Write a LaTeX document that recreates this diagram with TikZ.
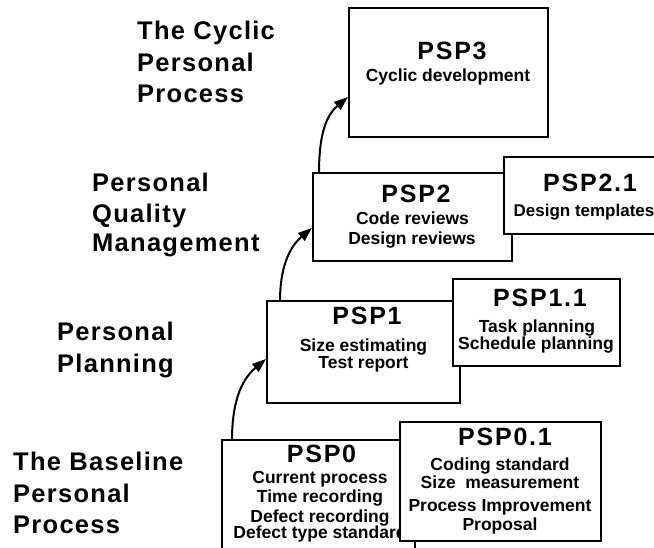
\documentclass[tikz,border=0pt]{standalone}
\usepackage{fontspec}
\setmainfont{Liberation Sans}
\newfontfamily\titlefont{Liberation Sans}[LetterSpace=7]
\newfontfamily\labelfont{Liberation Sans}[LetterSpace=5]
\usetikzlibrary{arrows.meta,calc}
\begin{document}
\begin{tikzpicture}[x=1pt,y=1pt,
  box/.style={draw, line width=2pt, fill=white, inner sep=0pt, outer sep=0pt, rectangle},
  ttl/.style={anchor=base, inner sep=0pt, font=\titlefont\bfseries\fontsize{25}{29}\selectfont},
  txt/.style={anchor=base, inner sep=0pt, font=\bfseries\fontsize{17.5}{20}\selectfont},
  lab/.style={anchor=base west, inner sep=0pt, font=\labelfont\bfseries\fontsize{25.5}{30}\selectfont},
  arr/.style={line width=2pt, -{Triangle[length=14pt,width=10pt]}, out=90, in=220}]
\useasboundingbox (0,0) rectangle (654,548);
\fill[white] (0,0) rectangle (654,548);
\clip (0,0) rectangle (654,548);

% left labels
\node[lab] (c1) at (137,508) {The Cyclic};
\node[lab] (c2) at (137,476) {Personal};
\node[lab] (c3) at (137,445) {Process};
\node[lab] (q1) at (92,356) {Personal};
\node[lab] (q2) at (92,325) {Quality};
\node[lab] (q3) at (92,296) {Management};
\node[lab] (l1) at (57,207) {Personal};
\node[lab] (l2) at (57,175) {Planning};
\node[lab] (b1) at (13,77) {The Baseline};
\node[lab] (b2) at (13,45) {Personal};
\node[lab] (b3) at (13,14) {Process};

% PSP0
\node[box, minimum width=193pt, minimum height=125pt] (p0) at (318.5,45.5) {};
\node[ttl] (p0t) at (321.5,85) {PSP0};
\node[txt] (p0a) at (320,64) {Current process};
\node[txt] (p0b) at (320,45) {Time recording};
\node[txt] (p0c) at (320,25) {Defect recording};
\node[txt] (p0d) at (320,9) {Defect type standard};

% PSP0.1
\node[box, minimum width=201pt, minimum height=119pt] (p01) at (500.5,66.5) {};
\node[ttl] (p01t) at (505,102) {PSP0.1};
\node[txt] (p01a) at (500,77) {Coding standard};
\node[txt] (p01b) at (500,59) {Size\ \ measurement};
\node[txt] (p01c) at (500,36) {Process Improvement};
\node[txt] (p01d) at (500,17) {Proposal};

% PSP1
\node[box, minimum width=193pt, minimum height=102pt] (p1) at (363.5,196) {};
\node[ttl] (p1t) at (367,223) {PSP1};
\node[txt] (p1a) at (363.5,196) {Size estimating};
\node[txt] (p1b) at (363.5,179) {Test report};

% PSP1.1
\node[box, minimum width=167pt, minimum height=87pt] (p11) at (536.5,225.5) {};
\node[ttl] (p11t) at (540,241) {PSP1.1};
\node[txt] (p11a) at (537,215) {Task planning};
\node[txt] (p11b) at (536,198) {Schedule planning};

% PSP2
\node[box, minimum width=199pt, minimum height=88pt] (p2) at (412.5,331) {};
\node[ttl] (p2t) at (416,345) {PSP2};
\node[txt] (p2a) at (412.5,323) {Code reviews};
\node[txt] (p2b) at (412,303) {Design reviews};

% PSP2.1
\node[box, minimum width=168pt, minimum height=77pt] (p21) at (588,352.5) {};
\node[ttl] (p21t) at (590,356) {PSP2.1};
\node[txt, font=\bfseries\fontsize{17}{20}\selectfont] (p21a) at (584,331) {Design templates};

% PSP3
\node[box, minimum width=199pt, minimum height=129pt] (p3) at (448.5,475.5) {};
\node[ttl] (p3t) at (452,488) {PSP3};
\node[txt] (p3a) at (448,466) {Cyclic development};

% arrows
\draw[arr] ($(p0.north west)+(10,0)$) to ($(p1.north west)+(-1,-58)$);
\draw[arr] ($(p1.north west)+(13,0)$) to ($(p2.north west)+(-1,-55)$);
\draw[arr] ($(p2.north west)+(6,0)$) to ($(p3.north west)+(-1,-89)$);
\end{tikzpicture}
\end{document}
